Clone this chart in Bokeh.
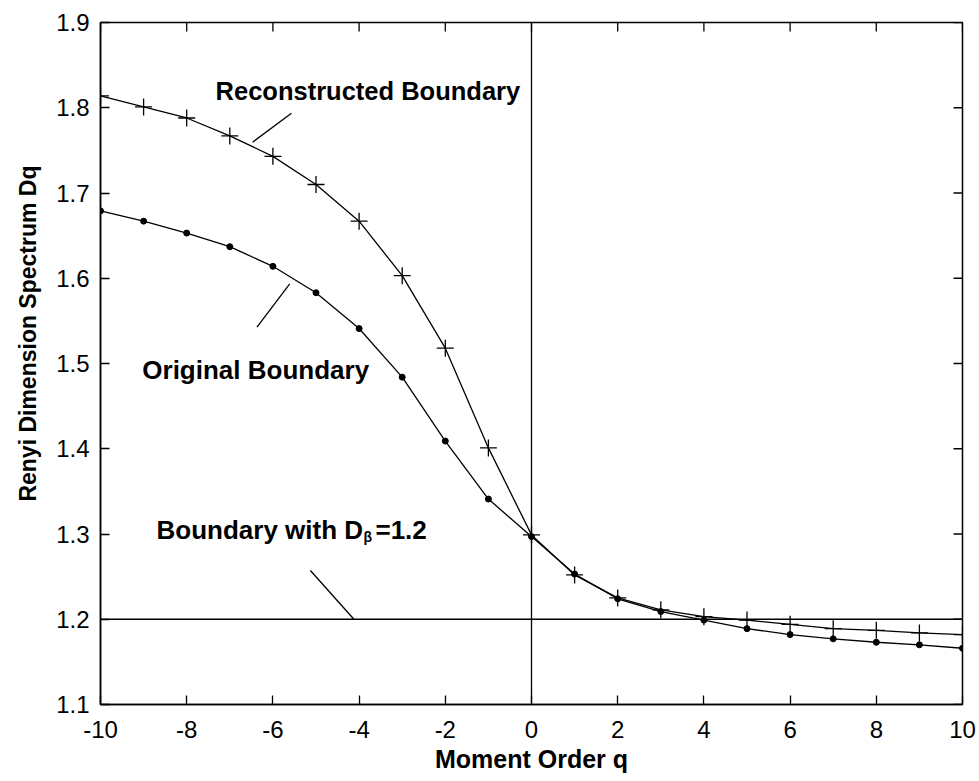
from bokeh.plotting import figure
from bokeh.models import Range1d, FixedTicker, Label, Span, Title
from bokeh.embed import file_html
from bokeh.resources import INLINE

# Moment orders and Renyi dimension spectra
q = [-10, -9, -8, -7, -6, -5, -4, -3, -2, -1, 0, 1, 2, 3, 4, 5, 6, 7, 8, 9, 10]
reconstructed = [1.814, 1.801, 1.788, 1.767, 1.743, 1.710, 1.667, 1.603, 1.518, 1.401,
                 1.299, 1.252, 1.225, 1.211, 1.203, 1.199, 1.194, 1.189, 1.187, 1.184, 1.182]
original = [1.679, 1.667, 1.653, 1.637, 1.614, 1.583, 1.541, 1.484, 1.409, 1.341,
            1.297, 1.253, 1.224, 1.209, 1.199, 1.189, 1.182, 1.177, 1.173, 1.170, 1.166]
d_beta = 1.2

x_ticks = [-10, -8, -6, -4, -2, 0, 2, 4, 6, 8, 10]
x_tick_labels = ["-10", "-8", "-6", "-4", "-2", "0", "2", "4", "6", "8", "10"]
y_ticks = [1.1, 1.2, 1.3, 1.4, 1.5, 1.6, 1.7, 1.8, 1.9]
y_tick_labels = ["1.1", "1.2", "1.3", "1.4", "1.5", "1.6", "1.7", "1.8", "1.9"]

X0, X1 = -10, 10
Y0, Y1 = 1.1, 1.9
FRAME_W, FRAME_H = 862, 682
TICK_PX = 9

LABEL_FONT = "Liberation Sans"
TICK_FONT = "Liberation Sans"

p = figure(width=979, height=781, output_backend="svg", toolbar_location=None,
           x_range=Range1d(X0, X1), y_range=Range1d(Y0, Y1),
           min_border_left=100, min_border_right=17, min_border_top=22,
           min_border_bottom=77)
p.outline_line_color = "black"
p.outline_line_width = 1.5
p.grid.visible = False
p.background_fill_color = "white"
p.border_fill_color = "white"

xax = p.below[0]
yax = p.left[0]
xax.ticker = FixedTicker(ticks=x_ticks)
xax.major_label_overrides = {t: s for t, s in zip(x_ticks, x_tick_labels)}
yax.ticker = FixedTicker(ticks=y_ticks)
yax.major_label_overrides = {t: s for t, s in zip(y_ticks, y_tick_labels)}

for ax in (xax, yax):
    ax.axis_line_color = "black"
    ax.axis_line_width = 1.5
    ax.major_tick_line_color = "black"
    ax.major_tick_line_width = 1.3
    ax.major_tick_in = TICK_PX
    ax.major_tick_out = 0
    ax.minor_tick_line_color = None
    ax.major_label_text_font = TICK_FONT
    ax.major_label_text_font_size = "24px"
    ax.major_label_text_color = "black"

xax.major_label_standoff = 16
yax.major_label_standoff = 11
xax.axis_label = "Moment Order q"
xax.axis_label_text_font = LABEL_FONT
xax.axis_label_text_font_style = "bold"
xax.axis_label_text_font_size = "25px"
xax.axis_label_text_color = "black"
xax.axis_label_standoff = 4

# vertical axis title
p.add_layout(Title(text="Renyi Dimension Spectrum Dq", text_font=LABEL_FONT,
                   text_font_style="bold", text_font_size="23px", text_color="black",
                   align="right", vertical_align="middle", offset=143,
                   standoff=24), "left")

# inward ticks on the upper and right frame edges
dy_tick = TICK_PX * (Y1 - Y0) / FRAME_H
dx_tick = TICK_PX * (X1 - X0) / FRAME_W
p.segment(x0=x_ticks, y0=[Y1] * len(x_ticks), x1=x_ticks, y1=[Y1 - dy_tick] * len(x_ticks),
          line_color="black", line_width=1.3)
p.segment(x0=[X1] * len(y_ticks), y0=y_ticks, x1=[X1 - dx_tick] * len(y_ticks), y1=y_ticks,
          line_color="black", line_width=1.3)

# reference lines at q = 0 and Dq = D_beta
p.add_layout(Span(location=0, dimension="height", line_color="black", line_width=1.3))
p.add_layout(Span(location=d_beta, dimension="width", line_color="black", line_width=1.5))

# spectra
p.line(q, reconstructed, line_color="black", line_width=1.3)
p.scatter(q, reconstructed, marker="cross", size=17, line_color="black", line_width=1.3)
p.line(q, original, line_color="black", line_width=1.3)
p.scatter(q, original, marker="circle", size=6, fill_color="black", line_color="black")

# pointer strokes for the annotations
p.segment(x0=[-6.47, -5.61, -5.13], y0=[1.7596, 1.5935, 1.2572],
          x1=[-5.57, -6.37, -4.12], y1=[1.7936, 1.5426, 1.2],
          line_color="black", line_width=1.3)


def note(x, y, text, size="26px"):
    p.add_layout(Label(x=x, y=y, text=text, text_font=LABEL_FONT,
                       text_font_style="bold", text_font_size=size,
                       text_color="black", text_baseline="alphabetic"))


note(-7.33, 1.820, "Reconstructed Boundary", size="25.5px")
note(-9.03, 1.4918, "Original Boundary")
note(-8.70, 1.3049, "Boundary with D")
note(-3.90, 1.296, "β", size="14px")
note(-3.62, 1.3049, "=1.2")

open("out.html", "w").write(file_html(p, INLINE))
